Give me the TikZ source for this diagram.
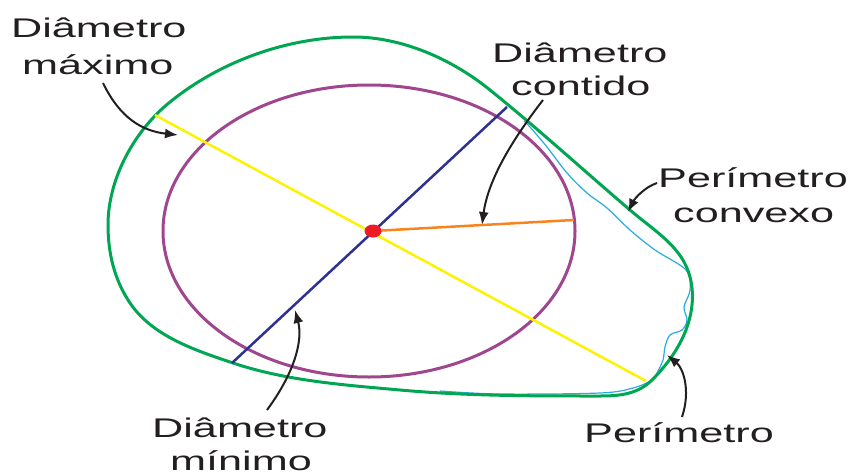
\documentclass[tikz,border=0pt]{standalone}
\usepackage{fontspec}
\setmainfont{Liberation Sans}
\usetikzlibrary{arrows.meta}
\definecolor{cgreen}{HTML}{00A651}
\definecolor{cpurple}{HTML}{A0468F}
\definecolor{cyellow}{HTML}{FFF200}
\definecolor{cblue}{HTML}{2E3192}
\definecolor{corange}{HTML}{F7841D}
\definecolor{cred}{HTML}{ED1C24}
\definecolor{ccyan}{HTML}{29ABE2}
\definecolor{ctext}{HTML}{231F20}
\newcommand{\wide}[1]{\scalebox{1.6}[1]{#1}}
\tikzset{
  lbl/.style={anchor=base west, inner sep=0pt, text=ctext, font=\fontsize{27}{32}\selectfont},
  pointer/.style={draw=ctext, line width=2pt, -{Latex[length=13pt,width=10pt]}},
  hull/.style={draw=cgreen, line width=3pt, line join=round},
  perim/.style={draw=ccyan, line width=1.2pt},
  circ/.style={draw=cpurple, line width=3pt},
  diam/.style={line width=2.5pt}
}
\begin{document}
\begin{tikzpicture}[x=1pt,y=-1pt]
\useasboundingbox (0,0) rectangle (856,471);
\clip (0,0) rectangle (856,471);
% perimeter (cyan)
\draw[perim] plot[smooth, tension=0.55] coordinates {(440,391) (500,394) (600,393) (633,388) (652,380) (657,373) (663,360) (665,347) (670,335) (682,330) (687,320) (684,307) (690,290) (686,270) (655,250) (630,230) (607,208) (587,193) (567,173) (547,147) (530,127) (524,121)};
% convex hull (green)
\draw[hull] (108,225) .. controls (108,179) and (134,131) .. (170,102)
  .. controls (220.7,61) and (288,37) .. (353,37)
  .. controls (402,37) and (451.8,59) .. (490,90)
  .. controls (537.6,128.4) and (583.6,170.4) .. (630,210)
  .. controls (658.9,234.7) and (688,250) .. (692,288)
  .. controls (695.5,323) and (676.7,355.3) .. (652,380)
  .. controls (637.9,394.1) and (620,396) .. (600,396)
  .. controls (533,396) and (466.3,396) .. (400,390)
  .. controls (344.6,385) and (286.2,380.9) .. (233,363)
  .. controls (195,350.2) and (152.4,336.2) .. (130,303)
  .. controls (114.3,279.8) and (108,253) .. cycle;
% inscribed ellipse
\draw[circ] (369,231) ellipse [x radius=206pt, y radius=146pt];
% diameters
\coordinate (c) at (373,231);
\coordinate (ymax1) at (155,115);
\coordinate (ymax2) at (646,381);
\coordinate (bmin1) at (232,363);
\coordinate (bmin2) at (507,107);
\coordinate (orng) at (574,220);
\draw[diam, cyellow] (ymax1) -- (ymax2);
\draw[diam, cblue] (bmin1) -- (bmin2);
\draw[diam, corange] (c) -- (orng);
\fill[cred] (c) ellipse [x radius=8.5pt, y radius=6.5pt];
% labels
\node[lbl] (tmax1) at (11,37) {\wide{Diâmetro}};
\node[lbl] (tmax2) at (22,74) {\wide{máximo}};
\node[lbl] (tcon1) at (492,62) {\wide{Diâmetro}};
\node[lbl] (tcon2) at (511,95) {\wide{contido}};
\node[lbl] (tcvx1) at (658,187) {\wide{Perímetro}};
\node[lbl] (tcvx2) at (673,222) {\wide{convexo}};
\node[lbl] (tper) at (584,442) {\wide{Perímetro}};
\node[lbl] (tmin1) at (152,437) {\wide{Diâmetro}};
\node[lbl] (tmin2) at (170,470) {\wide{mínimo}};
% arrows
\coordinate (amaxs) at (103,83);
\coordinate (amaxe) at (178,135);
\coordinate (acons) at (543,100);
\coordinate (acone) at (482,225);
\coordinate (acvxs) at (657,183);
\coordinate (acvxe) at (628,212);
\coordinate (apers) at (682,417);
\coordinate (apere) at (667,355);
\coordinate (amins) at (267,410);
\coordinate (amine) at (295,310);
\draw[pointer] (amaxs) .. controls (120,118) and (142,131) .. (amaxe);
\draw[pointer] (acons) .. controls (512,140) and (488,180) .. (acone);
\draw[pointer] (acvxs) .. controls (645,187) and (635,198) .. (acvxe);
\draw[pointer] (apers) .. controls (691,390) and (683,368) .. (apere);
\draw[pointer] (amins) .. controls (295,372) and (303,340) .. (amine);
\end{tikzpicture}
\end{document}
